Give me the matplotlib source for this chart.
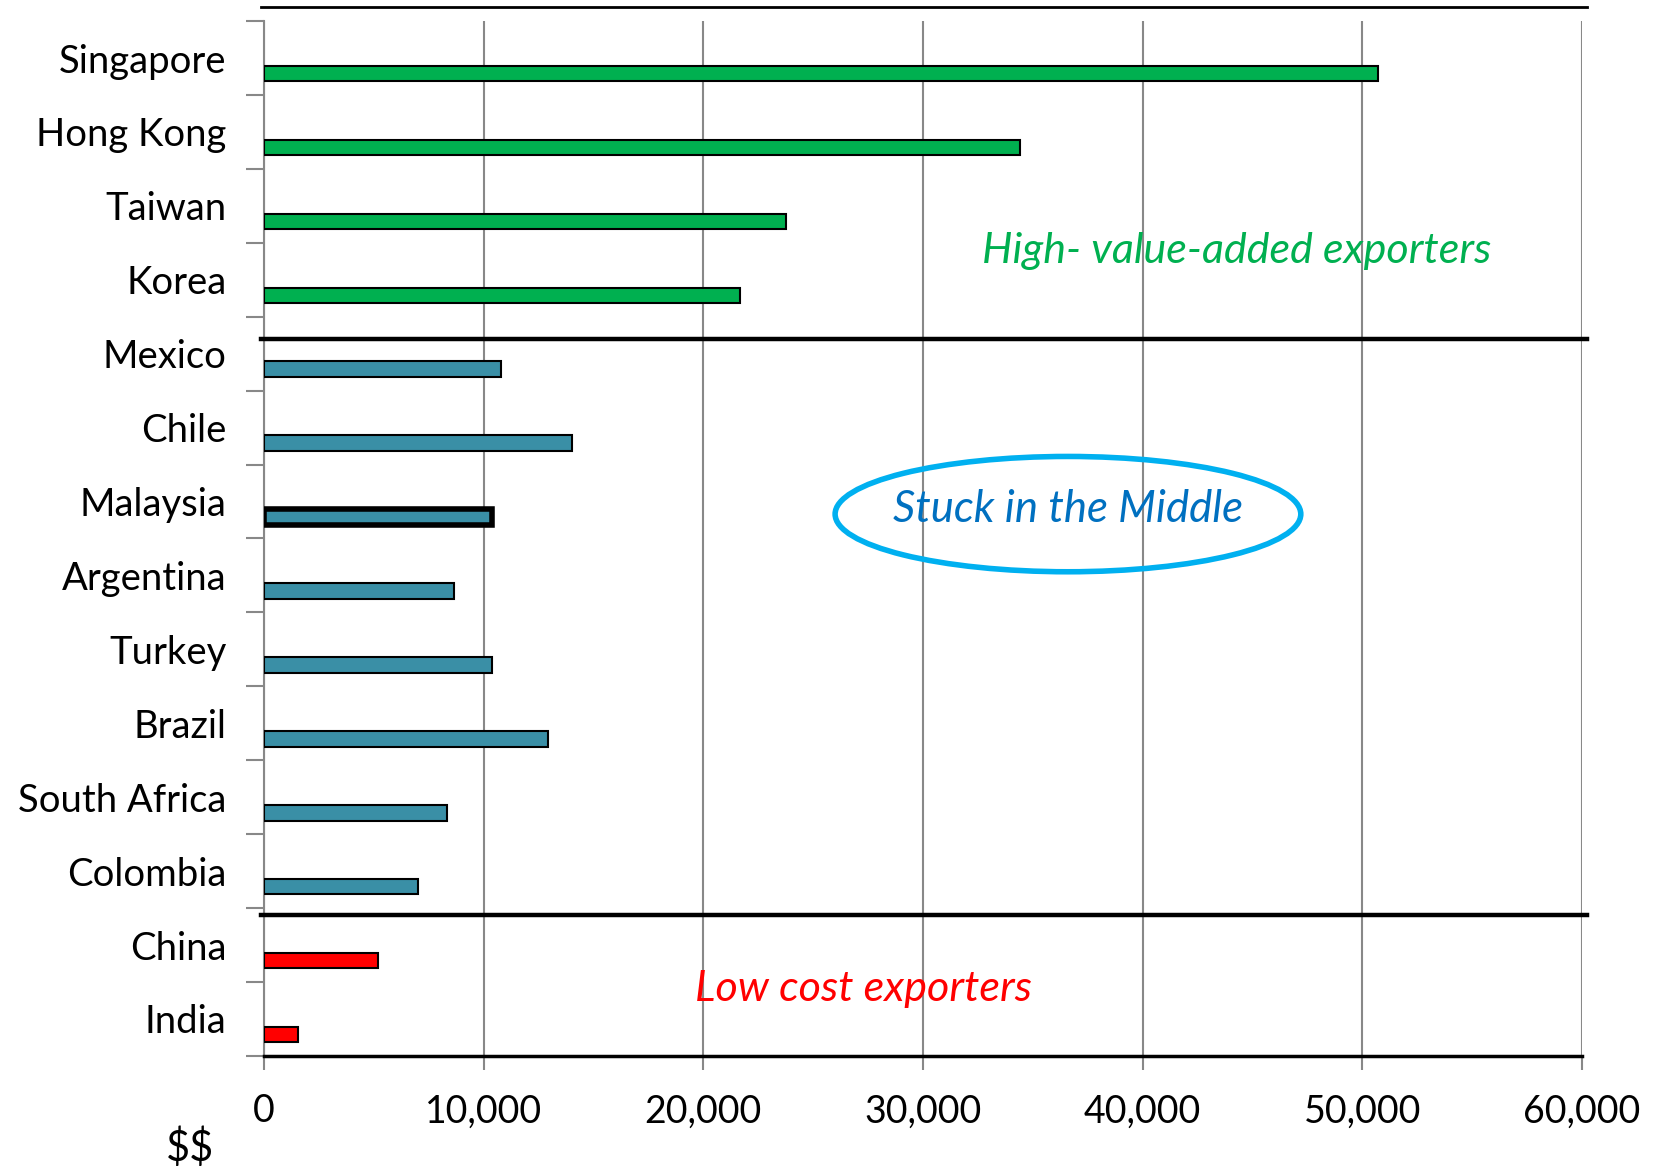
import numpy as np
import matplotlib
matplotlib.use("Agg")
import matplotlib.pyplot as plt
from matplotlib.patches import Ellipse
from matplotlib.ticker import FuncFormatter

plt.rcParams['font.family'] = ['Lato', 'DejaVu Sans']

# data (GDP per capita, $)
countries = ['Singapore', 'Hong Kong', 'Taiwan', 'Korea', 'Mexico', 'Chile',
             'Malaysia', 'Argentina', 'Turkey', 'Brazil', 'South Africa',
             'Colombia', 'China', 'India']
values = [50700, 34400, 23750, 21650, 10800, 14000, 10400, 8650, 10400,
          12950, 8350, 7000, 5200, 1550]
groups = ['high'] * 4 + ['mid'] * 8 + ['low'] * 2
group_colors = {'high': '#00B050', 'mid': '#3A8FA6', 'low': '#FF0000'}

fig = plt.figure(figsize=(16.56, 11.69), dpi=100)
ax = fig.add_axes([0.1594, 0.0967, 0.7959, 0.8853])

y = np.arange(len(countries))
cols = [group_colors[g] for g in groups]
bars = ax.barh(y + 0.21, values, height=0.21, color=cols,
               edgecolor='black', linewidth=1.5, zorder=3)
# Malaysia is highlighted with a heavy outline
bars[countries.index('Malaysia')].set_linewidth(4)

ax.set_xlim(0, 60000)
ax.set_ylim(len(countries) - 0.5, -0.5)

# x axis
ax.set_xticks(np.arange(0, 60001, 10000))
ax.xaxis.set_major_formatter(FuncFormatter(lambda v, p: f'{int(v):,}'))
ax.tick_params(axis='x', length=10, width=1.5, color='#888888',
               labelsize=27, pad=17)
ax.grid(axis='x', color='#888888', linewidth=1.5, zorder=0)

# y axis: tick marks on boundaries, labels at centres
ax.set_yticks(np.arange(-0.5, len(countries), 1.0))
ax.set_yticklabels([])
ax.set_yticks(y, minor=True)
ax.set_yticklabels(countries, minor=True)
ax.tick_params(axis='y', which='major', length=13, width=1.5, color='#888888')
ax.tick_params(axis='y', which='minor', length=0, labelsize=27.5, pad=27)

for s in ['top', 'right']:
    ax.spines[s].set_visible(False)
ax.spines['left'].set_color('#888888')
ax.spines['left'].set_linewidth(1.5)
ax.spines['bottom'].set_color('black')
ax.spines['bottom'].set_linewidth(2.5)

# divider lines between groups
ax.plot([-150, 60250], [-0.69, -0.69], color='black', lw=2, clip_on=False, zorder=4)
for yy in [3.8, 11.59]:
    ax.plot([-150, 60250], [yy, yy], color='black', lw=3.2, clip_on=False, zorder=4)

# annotations
ax.text(44300, 2.61, 'High- value-added exporters', color='#00B050',
        fontsize=31, style='italic', ha='center', va='center', zorder=5)
ax.text(36600, 6.11, 'Stuck in the Middle', color='#0070C0',
        fontsize=31.5, style='italic', ha='center', va='center', zorder=5)
ax.add_patch(Ellipse((36600, 6.17), 21200, 1.56, fill=False,
                     edgecolor='#00B0F0', linewidth=4, zorder=5))
ax.text(27300, 12.59, 'Low cost exporters', color='#FF0000',
        fontsize=31, style='italic', ha='center', va='center', zorder=5)

fig.text(190 / 1656, 1 - 1148 / 1169, r'\$\$', fontsize=30,
         ha='center', va='center')

fig.savefig('out.png', dpi=100)
